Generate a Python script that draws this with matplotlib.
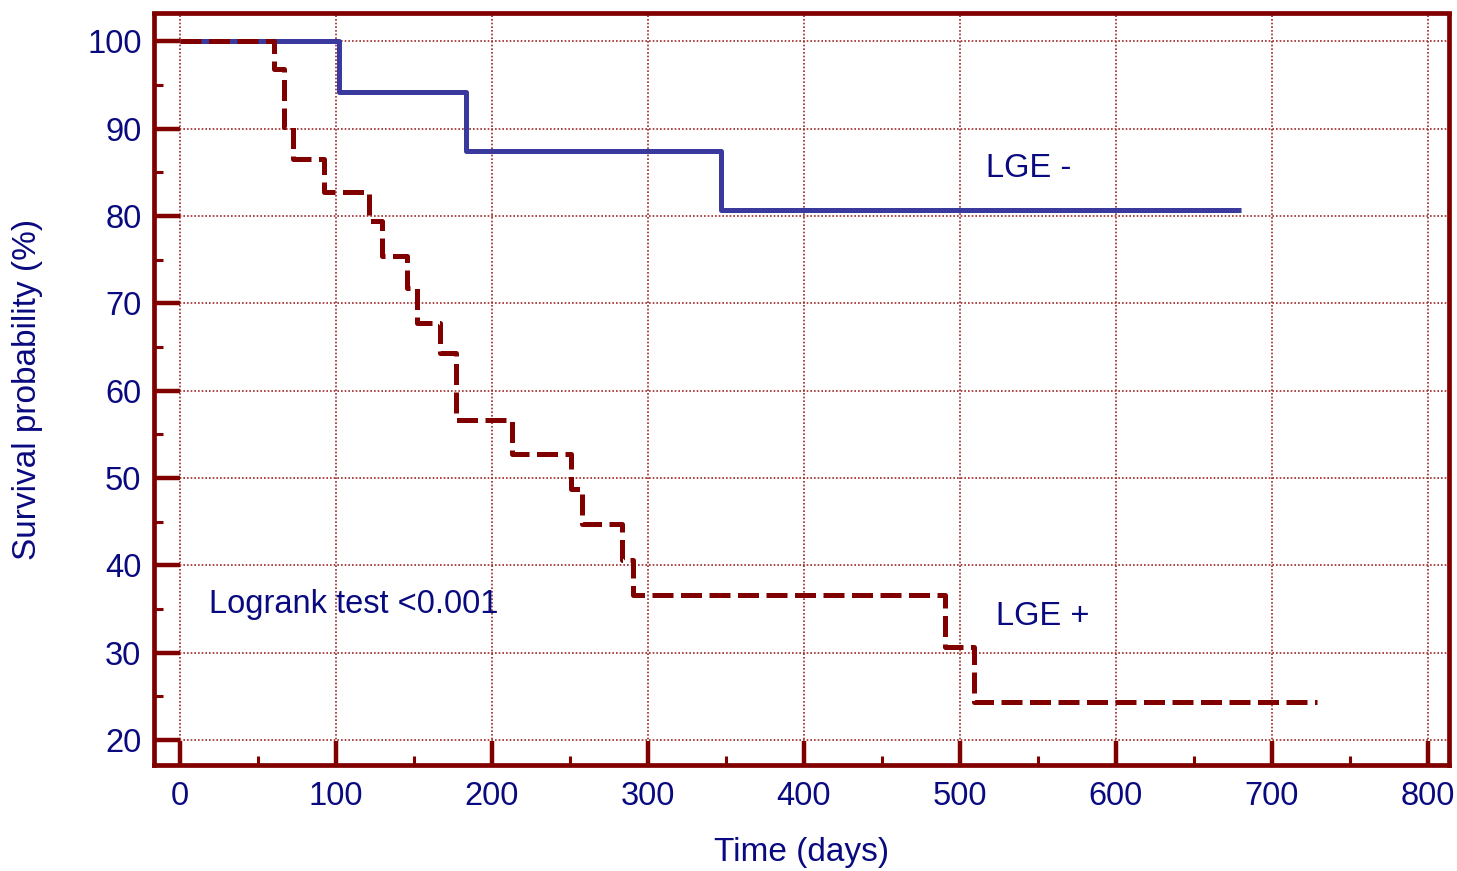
import numpy as np
import matplotlib
matplotlib.use('Agg')
import matplotlib.pyplot as plt
from matplotlib.ticker import MultipleLocator

plt.rcParams['font.family'] = ['Liberation Sans', 'DejaVu Sans']

# Kaplan-Meier steps (days, survival %)
lge_neg_t = [0, 102, 183, 347, 680]
lge_neg_s = [100, 94.2, 87.5, 80.7, 80.7]

lge_pos_t = [0, 60.5, 66.5, 72.5, 92, 121, 129.5, 145.5, 152, 166.5, 177,
             213, 250.5, 257.5, 283.5, 290.5, 490.5, 509, 729]
lge_pos_s = [100, 96.8, 90.2, 86.5, 82.8, 79.4, 75.4, 71.8, 67.8, 64.3, 56.6,
             52.7, 48.7, 44.7, 40.6, 36.6, 30.6, 24.3, 24.3]

x_ticks = [0, 100, 200, 300, 400, 500, 600, 700, 800]
y_ticks = [20, 30, 40, 50, 60, 70, 80, 90, 100]

FRAME = '#800000'
TEXT = '#0a0a80'
BLUE = '#3a3a9e'

fig = plt.figure(figsize=(14.57, 8.71), dpi=100)
ax = fig.add_axes([154 / 1457, 1 - 764.5 / 871, (1449 - 154) / 1457, (764.5 - 13.5) / 871])

ax.step(lge_neg_t, lge_neg_s, where='post', color=BLUE, lw=3.6,
        solid_capstyle='butt', zorder=3)
ax.step(lge_pos_t, lge_pos_s, where='post', color=FRAME, lw=3.6,
        dashes=(4.2, 1.5), zorder=4)

ax.set_xlim(-16.7, 813.5)
ax.set_ylim(17.2, 103.2)
ax.set_xticks(x_ticks)
ax.set_yticks(y_ticks)
ax.xaxis.set_minor_locator(MultipleLocator(50))
ax.yaxis.set_minor_locator(MultipleLocator(5))

ax.grid(True, which='major', color='#a02828', linestyle=(0, (1, 1.2)), lw=1.2, zorder=1)
for s in ax.spines.values():
    s.set_color(FRAME)
    s.set_linewidth(3.4)

ax.tick_params(axis='x', which='major', direction='in', length=17.6, width=3.2,
               color=FRAME, labelsize=23.5, labelcolor=TEXT, pad=12)
ax.tick_params(axis='y', which='major', direction='in', length=18.7, width=3.2,
               color=FRAME, labelsize=23.5, labelcolor=TEXT, pad=9)
ax.tick_params(which='minor', direction='in', length=6.5, width=2.2, color=FRAME)

ax.set_xlabel('Time (days)', fontsize=24, color=TEXT, labelpad=18)
ax.set_ylabel('Survival probability (%)', fontsize=24, color=TEXT, labelpad=32)

ax.text(517, 85.5, 'LGE -', fontsize=23.5, color=TEXT, va='center')
ax.text(523, 34.2, 'LGE +', fontsize=23.5, color=TEXT, va='center')
ax.text(18.5, 35.5, 'Logrank test <0.001', fontsize=23.5, color=TEXT, va='center')

fig.savefig('out.png', dpi=100)
